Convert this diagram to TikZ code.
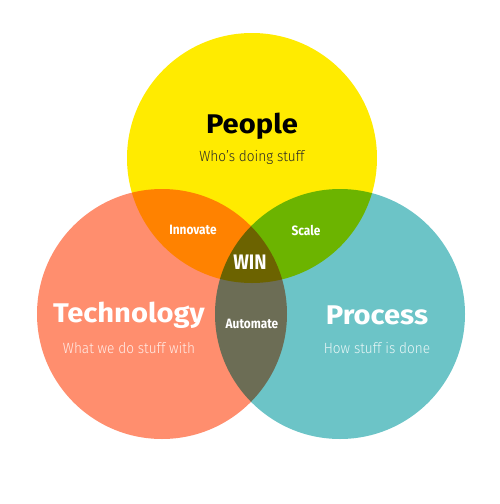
\documentclass[tikz,border=0pt]{standalone}
\usepackage{fontspec}
\setmainfont{Fira Sans}[FakeStretch=0.88]
\newfontfamily\lightfont{Fira Sans Light}[FakeStretch=0.92]
\newfontfamily\titlefont{Fira Sans}[FakeStretch=1.08]
\definecolor{cyellow}{RGB}{255,235,0}
\definecolor{csalmon}{RGB}{255,142,110}
\definecolor{cteal}{RGB}{108,196,199}
\definecolor{subdark}{RGB}{40,40,40}
\tikzset{
  title/.style={font=\titlefont\fontsize{27}{30}\selectfont\bfseries, inner sep=0pt},
  subtitle/.style={font=\lightfont\fontsize{14.8}{17}\selectfont, inner sep=0pt},
  small/.style={font=\fontsize{13.5}{15}\selectfont\bfseries, text=white, inner sep=0pt},
  circ/.style={circle, minimum size=250pt, inner sep=0pt, draw=none}
}
\begin{document}
\begin{tikzpicture}[x=1pt,y=-1pt]
\useasboundingbox (0,0) rectangle (500,504);
\begin{scope}[blend group=multiply]
  \node[circ, fill=cyellow] (people) at (252,158) {};
  \node[circ, fill=csalmon] (tech) at (162,314) {};
  \node[circ, fill=cteal] (proc) at (340,314) {};
\end{scope}
\node[title, text=black] (tp) at (252,126) {People};
\node[subtitle, text=subdark] (sp) at (252,157) {Who’s doing stuff};
\node[title, text=white] (tt) at (129,315) {Technology};
\node[subtitle, text=white, opacity=0.85] (st) at (129,348) {What we do stuff with};
\node[title, text=white] (tpr) at (377,315) {Process};
\node[subtitle, text=white, opacity=0.85] (spr) at (377,348) {How stuff is done};
\node[small] (inn) at (193,230) {Innovate};
\node[small] (sca) at (306,230) {Scale};
\node[font=\fontsize{21}{24}\selectfont\bfseries, text=white, inner sep=0pt] (win) at (250,262) {WIN};
\node[small] (aut) at (252,324) {Automate};
\end{tikzpicture}
\end{document}
